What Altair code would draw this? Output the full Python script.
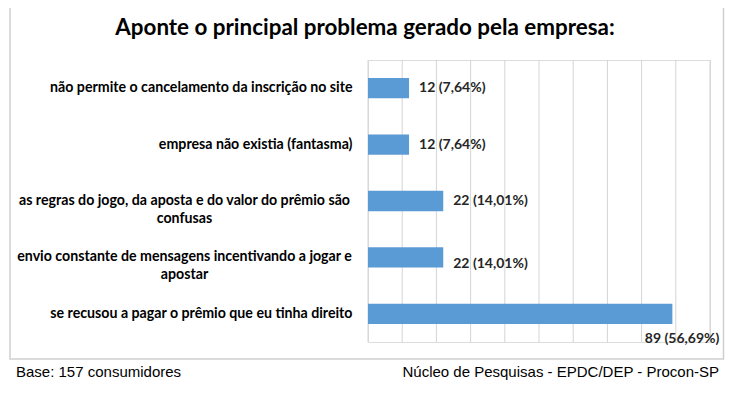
import altair as alt
import pandas as pd

categories = [
    "não permite o cancelamento da inscrição no site",
    "empresa não existia (fantasma)",
    "as regras do jogo, da aposta e do valor do prêmio são|confusas",
    "envio constante de mensagens incentivando a jogar e|apostar",
    "se recusou a pagar o prêmio que eu tinha direito",
]
values = [12, 12, 22, 22, 89]
value_labels = ["12 (7,64%)", "12 (7,64%)", "22 (14,01%)", "22 (14,01%)", "89 (56,69%)"]
grid_ticks = [0, 10, 20, 30, 40, 50, 60, 70, 80, 90, 100]

title_text = "Aponte o principal problema gerado pela empresa:"
footer_left = "Base: 157 consumidores"
footer_right = "Núcleo de Pesquisas - EPDC/DEP - Procon-SP"

df = pd.DataFrame({"cat": categories, "v": values, "lab": value_labels, "i": range(len(values))})
grid_df = pd.DataFrame({"g": grid_ticks})

W, H = 342, 282
FONT = "Lato"

yaxis = alt.Axis(
    title=None, domain=False, ticks=False, grid=False,
    labelExpr="split(datum.value, '|')",
    labelAlign={"condition": {"test": "indexof(datum.value, '|') >= 0", "value": "center"}, "value": "right"},
    labelPadding={"condition": {"test": "indexof(datum.value, '|') >= 0", "value": 184}, "value": 16},
    labelFont=FONT, labelFontSize=14.2, labelFontWeight="bold", labelColor="#000000",
    labelLineHeight=18, labelLimit=400,
)
xaxis = alt.Axis(title=None, labels=False, ticks=False, domain=False, grid=False)
xscale = alt.Scale(domain=[0, 100], nice=False)
yscale = alt.Scale(paddingInner=0.64, paddingOuter=0.32)

xenc = alt.X("v:Q", scale=xscale, axis=xaxis)
yenc = alt.Y("cat:N", sort=categories, scale=yscale, axis=yaxis)

base = alt.Chart(df)
grid = alt.Chart(grid_df).mark_rule(color="#D4D4D4", strokeWidth=1).encode(
    x=alt.X("g:Q", scale=xscale, axis=xaxis), y=alt.value(0), y2=alt.value(H))
bars = base.mark_bar(color="#5B9BD5").encode(x=xenc, y=yenc)

txt_style = dict(font=FONT, fontSize=14, fontWeight="bold", color="#262626", baseline="middle")
lab_a = base.transform_filter("datum.i <= 2").mark_text(align="left", dx=10, **txt_style).encode(
    x=xenc, y=yenc, text="lab:N")
lab_b = base.transform_filter("datum.i == 3").mark_text(align="left", dx=10, dy=7, **txt_style).encode(
    x=xenc, y=yenc, text="lab:N")
lab_c = base.transform_filter("datum.i == 4").mark_text(align="right", dx=47, dy=25, **txt_style).encode(
    x=xenc, y=yenc, text="lab:N")

deco = alt.Chart(pd.DataFrame({"t": [title_text]}))
border = deco.mark_rect(fill="transparent", stroke="#CFCFCF", strokeWidth=1.5).encode(
    x=alt.value(-358), x2=alt.value(355.5), y=alt.value(-70), y2=alt.value(299))
title = deco.mark_text(font=FONT, fontSize=22.4, fontWeight="bold", color="#000000",
                       align="center", baseline="middle").encode(
    x=alt.value(-3), y=alt.value(-32), text="t:N")
fl = alt.Chart(pd.DataFrame({"t": [footer_left]})).mark_text(
    font="Liberation Sans", fontSize=15, color="#000000", align="left", baseline="alphabetic").encode(
    x=alt.value(-352), y=alt.value(317), text="t:N")
fr = alt.Chart(pd.DataFrame({"t": [footer_right]})).mark_text(
    font="Liberation Sans", fontSize=15, color="#000000", align="right", baseline="alphabetic").encode(
    x=alt.value(351), y=alt.value(317), text="t:N")

chart = alt.layer(border, grid, bars, lab_a, lab_b, lab_c, title, fl, fr).properties(
    width=W, height=H,
    autosize=alt.AutoSizeParams(type="none"),
    padding={"left": 360, "top": 52, "right": 15, "bottom": 38},
).configure_view(stroke=None).configure(background="#ffffff")

chart.save("out.html", embed_options={"renderer": "svg", "actions": False})
